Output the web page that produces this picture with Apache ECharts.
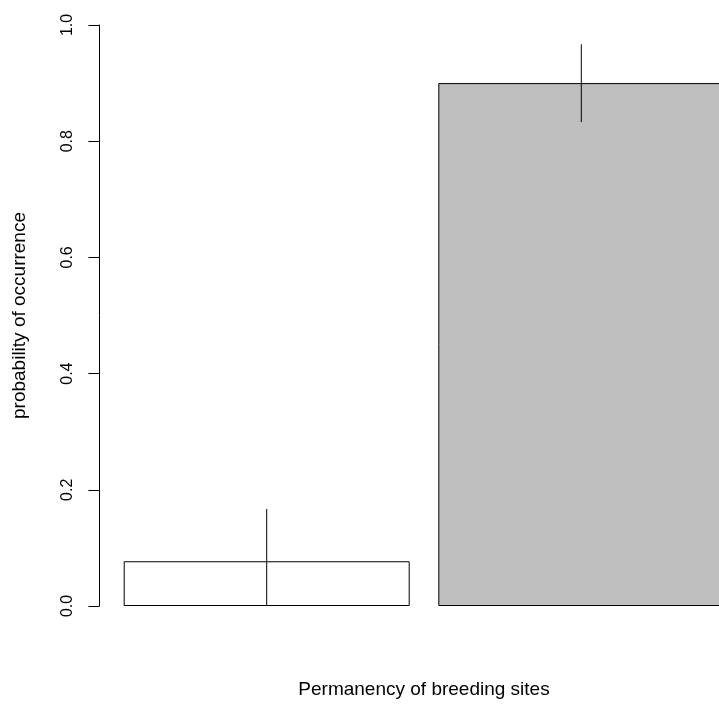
<!DOCTYPE html>
<html>
<head>
<meta charset="utf-8">
<script src="https://cdn.jsdelivr.net/npm/echarts@6/dist/echarts.min.js"></script>
<style>
  html, body { margin: 0; padding: 0; background: #fff; }
  #chart { width: 719px; height: 704px; }
</style>
</head>
<body>
<div id="chart"></div>
<script>
// data
const categories = ['temporary', 'permanent'];
const probability = [0.077, 0.9];
const errLow = [0.0, 0.833];
const errHigh = [0.167, 0.967];
const barColors = ['#ffffff', '#bebebe'];
const yTicks = [0, 0.2, 0.4, 0.6, 0.8, 1.0];

const chart = echarts.init(document.getElementById('chart'));

const font = 'Liberation Sans, Arial, sans-serif';

chart.setOption({
    animation: false,
    grid: {
        left: 109.4, width: 629.2, top: 25, bottom: 98,
        containLabel: false,
        outerBoundsMode: 'none'
    },
    xAxis: {
        type: 'category',
        data: categories,
        axisLine: { show: false },
        axisTick: { show: false },
        axisLabel: { show: false },
        name: 'Permanency of breeding sites',
        nameLocation: 'middle',
        nameGap: 74,
        nameTextStyle: { color: '#000', fontSize: 19, fontFamily: font }
    },
    yAxis: {
        type: 'value',
        min: 0,
        max: 1,
        interval: 0.2,
        offset: 10,
        splitLine: { show: false },
        axisLine: { show: true, lineStyle: { color: '#000', width: 1 } },
        axisTick: { show: true, length: 11, lineStyle: { color: '#000' } },
        axisLabel: {
            rotate: 90,
            margin: 24,
            color: '#000',
            fontSize: 16,
            fontFamily: font,
            formatter: v => yTicks.includes(+v.toFixed(1)) ? v.toFixed(1) : ''
        },
        name: 'probability of occurrence',
        nameLocation: 'middle',
        nameGap: 70,
        nameRotate: 90,
        nameTextStyle: { color: '#000', fontSize: 19, fontFamily: font }
    },
    series: [
        {
            type: 'bar',
            barWidth: 286,
            data: probability.map((v, i) => ({
                value: v,
                itemStyle: { color: barColors[i], borderColor: '#000', borderWidth: 1 }
            }))
        },
        {
            type: 'custom',
            data: categories.map((c, i) => [i, errLow[i], errHigh[i]]),
            renderItem: function (params, api) {
                const lo = api.coord([api.value(0), api.value(1)]);
                const hi = api.coord([api.value(0), api.value(2)]);
                return {
                    type: 'line',
                    shape: { x1: lo[0], y1: lo[1], x2: hi[0], y2: hi[1] },
                    style: { stroke: '#000', lineWidth: 1 }
                };
            },
            z: 5
        }
    ]
});
</script>
</body>
</html>
